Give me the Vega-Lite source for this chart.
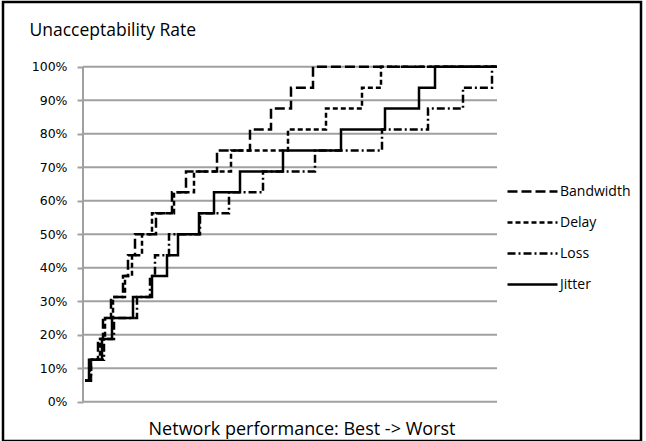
{
  "$schema": "https://vega.github.io/schema/vega-lite/v6.json",
  "width": 638,
  "height": 439,
  "autosize": {"type": "none"},
  "padding": {"left": 3, "top": 2, "right": 5, "bottom": 0},
  "background": "white",
  "config": {
    "view": {"stroke": "black", "strokeWidth": 2.5},
    "font": "Open Sans",
    "axisX": {
      "domain": false, "ticks": false, "labels": false, "grid": false,
      "titleFont": "Open Sans", "titleFontSize": 18, "titleFontWeight": "normal", "titleColor": "black",
      "titleX": 298.5, "titleY": -7, "titleAlign": "center", "titleBaseline": "alphabetic"
    },
    "axisY": {
      "offset": -80,
      "labelExpr": "datum.value + '%'",
      "domain": false, "grid": false,
      "ticks": true, "tickSize": 6, "tickColor": "#a0a0a0", "tickWidth": 2,
      "labelPadding": 10, "labelFontSize": 12.5, "labelColor": "black", "labelFont": "DejaVu Sans",
      "titleFont": "Open Sans", "titleFontSize": 17.5, "titleFontWeight": "normal", "titleColor": "black",
      "titleAngle": 0, "titleAlign": "left", "titleBaseline": "alphabetic",
      "titleX": -54, "titleY": 33
    }
  },
  "datasets": {
    "grid": [{"v": 0}, {"v": 10}, {"v": 20}, {"v": 30}, {"v": 40}, {"v": 50}, {"v": 60}, {"v": 70}, {"v": 80}, {"v": 90}, {"v": 100}],
    "series": [
      {"series": "Bandwidth", "rank": 2, "rate": 6.25},
      {"series": "Bandwidth", "rank": 7, "rate": 12.5},
      {"series": "Bandwidth", "rank": 15, "rate": 18.75},
      {"series": "Bandwidth", "rank": 20, "rate": 25},
      {"series": "Bandwidth", "rank": 28, "rate": 31.25},
      {"series": "Bandwidth", "rank": 40, "rate": 37.5},
      {"series": "Bandwidth", "rank": 45, "rate": 43.75},
      {"series": "Bandwidth", "rank": 52, "rate": 50},
      {"series": "Bandwidth", "rank": 73, "rate": 56.25},
      {"series": "Bandwidth", "rank": 89, "rate": 62.5},
      {"series": "Bandwidth", "rank": 103, "rate": 68.75},
      {"series": "Bandwidth", "rank": 134, "rate": 75},
      {"series": "Bandwidth", "rank": 167, "rate": 81.25},
      {"series": "Bandwidth", "rank": 188, "rate": 87.5},
      {"series": "Bandwidth", "rank": 208, "rate": 93.75},
      {"series": "Bandwidth", "rank": 230, "rate": 100},
      {"series": "Bandwidth", "rank": 414, "rate": 100},
      {"series": "Delay", "rank": 2, "rate": 6.25},
      {"series": "Delay", "rank": 8, "rate": 12.5},
      {"series": "Delay", "rank": 17, "rate": 18.75},
      {"series": "Delay", "rank": 22, "rate": 25},
      {"series": "Delay", "rank": 30, "rate": 31.25},
      {"series": "Delay", "rank": 42, "rate": 37.5},
      {"series": "Delay", "rank": 49, "rate": 43.75},
      {"series": "Delay", "rank": 59, "rate": 50},
      {"series": "Delay", "rank": 69, "rate": 56.25},
      {"series": "Delay", "rank": 91, "rate": 62.5},
      {"series": "Delay", "rank": 111, "rate": 68.75},
      {"series": "Delay", "rank": 148, "rate": 75},
      {"series": "Delay", "rank": 205, "rate": 81.25},
      {"series": "Delay", "rank": 243, "rate": 87.5},
      {"series": "Delay", "rank": 279, "rate": 93.75},
      {"series": "Delay", "rank": 298, "rate": 100},
      {"series": "Delay", "rank": 414, "rate": 100},
      {"series": "Loss", "rank": 2, "rate": 6.25},
      {"series": "Loss", "rank": 8, "rate": 12.5},
      {"series": "Loss", "rank": 21, "rate": 18.75},
      {"series": "Loss", "rank": 31, "rate": 25},
      {"series": "Loss", "rank": 54, "rate": 31.25},
      {"series": "Loss", "rank": 67, "rate": 37.5},
      {"series": "Loss", "rank": 72, "rate": 43.75},
      {"series": "Loss", "rank": 86, "rate": 50},
      {"series": "Loss", "rank": 117, "rate": 56.25},
      {"series": "Loss", "rank": 146, "rate": 62.5},
      {"series": "Loss", "rank": 180, "rate": 68.75},
      {"series": "Loss", "rank": 232, "rate": 75},
      {"series": "Loss", "rank": 299, "rate": 81.25},
      {"series": "Loss", "rank": 345, "rate": 87.5},
      {"series": "Loss", "rank": 380, "rate": 93.75},
      {"series": "Loss", "rank": 409, "rate": 100},
      {"series": "Loss", "rank": 414, "rate": 100},
      {"series": "Jitter", "rank": 2, "rate": 6.25},
      {"series": "Jitter", "rank": 6, "rate": 12.5},
      {"series": "Jitter", "rank": 19, "rate": 18.75},
      {"series": "Jitter", "rank": 29, "rate": 25},
      {"series": "Jitter", "rank": 50, "rate": 31.25},
      {"series": "Jitter", "rank": 69, "rate": 37.5},
      {"series": "Jitter", "rank": 84, "rate": 43.75},
      {"series": "Jitter", "rank": 95, "rate": 50},
      {"series": "Jitter", "rank": 116, "rate": 56.25},
      {"series": "Jitter", "rank": 131, "rate": 62.5},
      {"series": "Jitter", "rank": 157, "rate": 68.75},
      {"series": "Jitter", "rank": 200, "rate": 75},
      {"series": "Jitter", "rank": 258, "rate": 81.25},
      {"series": "Jitter", "rank": 302, "rate": 87.5},
      {"series": "Jitter", "rank": 336, "rate": 93.75},
      {"series": "Jitter", "rank": 352, "rate": 100},
      {"series": "Jitter", "rank": 414, "rate": 100}
    ]
  },
  "layer": [
    {
      "data": {"name": "grid"},
      "mark": {"type": "rule", "color": "#a0a0a0", "strokeWidth": 2},
      "encoding": {
        "y": {"field": "v", "type": "quantitative", "scale": {"domain": [-11.73, 119.31], "nice": false, "zero": false}, "title": "Unacceptability Rate", "axis": {"values": [0, 10, 20, 30, 40, 50, 60, 70, 80, 90, 100]}},
        "x": {"datum": 0, "type": "quantitative", "scale": {"domain": [-80, 558], "nice": false, "zero": false}, "title": "Network performance: Best -> Worst"},
        "x2": {"datum": 414}
      }
    },
    {
      "data": {"name": "grid"},
      "transform": [{"filter": "datum.v == 0"}],
      "mark": {"type": "rule", "color": "#a0a0a0", "strokeWidth": 2},
      "encoding": {
        "x": {"datum": 0, "type": "quantitative", "scale": {"domain": [-80, 558], "nice": false, "zero": false}, "title": "Network performance: Best -> Worst"},
        "y": {"datum": 0, "type": "quantitative", "scale": {"domain": [-11.73, 119.31], "nice": false, "zero": false}, "title": "Unacceptability Rate", "axis": {"values": [0, 10, 20, 30, 40, 50, 60, 70, 80, 90, 100]}},
        "y2": {"datum": 100}
      }
    },
    {
      "data": {"name": "series"},
      "mark": {"type": "line", "interpolate": "step-after", "color": "black", "strokeWidth": 2.5},
      "encoding": {
        "x": {
          "field": "rank", "type": "quantitative",
          "scale": {"domain": [-80, 558], "nice": false, "zero": false},
          "title": "Network performance: Best -> Worst"
        },
        "y": {
          "field": "rate", "type": "quantitative",
          "scale": {"domain": [-11.73, 119.31], "nice": false, "zero": false},
          "title": "Unacceptability Rate",
          "axis": {"values": [0, 10, 20, 30, 40, 50, 60, 70, 80, 90, 100]}
        },
        "strokeDash": {
          "field": "series", "type": "nominal",
          "scale": {"domain": ["Bandwidth", "Delay", "Loss", "Jitter"], "range": [[10, 4], [5, 3], [8, 3, 2, 3], [1, 0]]},
          "legend": {
            "title": null, "orient": "none", "legendX": 503, "legendY": 175,
            "symbolType": "stroke", "symbolSize": 2500, "symbolStrokeWidth": 2.5, "symbolStrokeColor": "black",
            "clipHeight": 29, "rowPadding": 2, "labelOffset": 1,
            "labelFont": "Open Sans", "labelFontSize": 14, "labelColor": "black"
          }
        }
      }
    }
  ]
}
